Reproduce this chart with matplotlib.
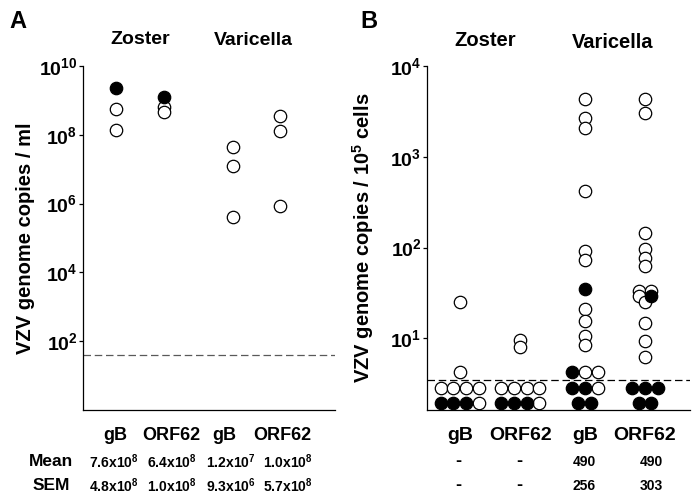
import matplotlib
matplotlib.use('Agg')
import matplotlib.pyplot as plt
from matplotlib.ticker import FixedLocator, FixedFormatter, NullLocator

# Fonts: Helvetica-like bold everywhere
plt.rcParams['font.family'] = ['Liberation Sans', 'DejaVu Sans']
plt.rcParams['font.weight'] = 'bold'
plt.rcParams['axes.labelweight'] = 'bold'
plt.rcParams['mathtext.fontset'] = 'custom'
plt.rcParams['mathtext.rm'] = 'Liberation Sans:bold'
plt.rcParams['mathtext.bf'] = 'Liberation Sans:bold'
plt.rcParams['mathtext.it'] = 'Liberation Sans:bold'

# ---- Data, panel A (copies / ml) ----
categories = ['gB', 'ORF62', 'gB', 'ORF62']
groups = ['Zoster', 'Varicella']
a_open = [[5.6e8, 1.4e8], [6.4e8, 4.6e8], [4.4e7, 1.2e7, 4.0e5], [3.5e8, 1.3e8, 8.5e5]]
a_filled = [[2.3e9], [1.23e9], [], []]
a_cutoff = 40
a_mean = [r'7.6x10$^{8}$', r'6.4x10$^{8}$', r'1.2x10$^{7}$', r'1.0x10$^{8}$']
a_sem = [r'4.8x10$^{8}$', r'1.0x10$^{8}$', r'9.3x10$^{6}$', r'5.7x10$^{8}$']

# ---- Data, panel B (copies / 10^5 cells) ----
b_values = [
    [25, 4.2, 2.8, 2.8, 2.8, 2.8, 1.93, 1.93, 1.93, 1.93],
    [9.5, 8.0, 2.8, 2.8, 2.8, 2.8, 1.93, 1.93, 1.93, 1.93],
    [4300, 2650, 2050, 415, 91, 72, 35, 21, 15.4, 10.5, 8.4, 4.2, 4.2, 4.2,
     2.8, 2.8, 2.8, 1.93, 1.93],
    [4300, 3050, 146, 96, 76, 63, 33.6, 33.6, 29, 29, 25, 14.6, 9.3, 6.2,
     2.8, 2.8, 2.8, 1.93, 1.93],
]
b_filled = [
    [0, 0, 0, 0, 0, 0, 1, 1, 1, 0],
    [0, 0, 0, 0, 0, 0, 1, 1, 1, 0],
    [0, 0, 0, 0, 0, 0, 1, 0, 0, 0, 0, 1, 0, 0, 1, 1, 0, 1, 1],
    [0, 0, 0, 0, 0, 0, 0, 0, 0, 1, 0, 0, 0, 0, 1, 1, 1, 1, 1],
]
b_cutoff = 3.45
b_mean = ['-', '-', '490', '490']
b_sem = ['-', '-', '256', '303']

W, H = 699, 501
fig = plt.figure(figsize=(W / 100, H / 100), dpi=100)


def fx(x):
    return x / W


def fy(y):
    return 1 - y / H


def style_axis(ax):
    for s in ['top', 'right']:
        ax.spines[s].set_visible(False)
    for s in ['left', 'bottom']:
        ax.spines[s].set_linewidth(0.9)
    ax.tick_params(axis='y', direction='out', length=3, width=0.9, pad=1, labelsize=14)
    ax.tick_params(axis='x', length=0, pad=12)
    ax.yaxis.set_minor_locator(NullLocator())


MS = 80   # marker area
LW = 0.9

# ---------------- Panel A ----------------
axA = fig.add_axes([fx(83), fy(410), fx(335 - 83), (410 - 66) / H])
a_pos = [1.3, 3.2, 5.95, 7.8]
a_label_pos = [1.27, 3.5, 5.6, 7.9]
for i in range(4):
    axA.scatter([a_pos[i]] * len(a_open[i]), a_open[i], s=MS, facecolor='white',
                edgecolor='black', linewidth=LW, zorder=3)
    axA.scatter([a_pos[i]] * len(a_filled[i]), a_filled[i], s=MS, facecolor='black',
                edgecolor='black', linewidth=LW, zorder=4)
axA.axhline(a_cutoff, color='0.35', linestyle=(0, (6, 3)), linewidth=0.9)
axA.set_yscale('log')
axA.set_ylim(1, 1e10)
axA.set_xlim(0, 10)
style_axis(axA)
axA.yaxis.set_major_locator(FixedLocator([1e2, 1e4, 1e6, 1e8, 1e10]))
axA.yaxis.set_major_formatter(FixedFormatter([r'$10^{2}$', r'$10^{4}$', r'$10^{6}$',
                                              r'$10^{8}$', r'$10^{10}$']))
axA.set_xticks(a_label_pos)
axA.set_xticklabels(categories, fontsize=13)
axA.set_ylabel('VZV genome copies / ml', fontsize=14.5, labelpad=3)

fig.text(fx(18), fy(22), 'A', fontsize=17, ha='center', va='center')
fig.text(fx(140), fy(40), groups[0], fontsize=14, ha='center', va='center')
fig.text(fx(253), fy(41), groups[1], fontsize=14, ha='center', va='center')

fig.text(fx(51), fy(462), 'Mean', fontsize=12.5, ha='center', va='center')
fig.text(fx(51), fy(486), 'SEM', fontsize=12.5, ha='center', va='center')
a_tab_x = [114, 172, 231, 288]
for i in range(4):
    fig.text(fx(a_tab_x[i]), fy(462), a_mean[i], fontsize=10, ha='center', va='center')
    fig.text(fx(a_tab_x[i]), fy(486), a_sem[i], fontsize=10, ha='center', va='center')

# ---------------- Panel B ----------------
axB = fig.add_axes([fx(427), fy(410), fx(690 - 427), (410 - 66) / H])
b_pos = [1.25, 3.54, 6.0, 8.29]
step = 12.8 * 10 / (690 - 427)   # circle spacing in data units
for i in range(4):
    vals = b_values[i]
    flags = b_filled[i]
    # spread points with equal value side by side
    groups_idx = {}
    for j, v in enumerate(vals):
        groups_idx.setdefault(v, []).append(j)
    for v, idx in groups_idx.items():
        n = len(idx)
        for k, j in enumerate(idx):
            x = b_pos[i] + (k - (n - 1) / 2) * step
            fc = 'black' if flags[j] else 'white'
            axB.scatter([x], [v], s=MS, facecolor=fc, edgecolor='black',
                        linewidth=LW, zorder=3 + j * 0.01 + flags[j])
axB.axhline(b_cutoff, color='black', linestyle=(0, (6, 3)), linewidth=0.9)
axB.set_yscale('log')
axB.set_ylim(10 ** 0.21, 1e4)
axB.set_xlim(0, 10)
style_axis(axB)
axB.yaxis.set_major_locator(FixedLocator([1e1, 1e2, 1e3, 1e4]))
axB.yaxis.set_major_formatter(FixedFormatter([r'$10^{1}$', r'$10^{2}$', r'$10^{3}$',
                                              r'$10^{4}$']))
axB.set_xticks(b_pos)
axB.set_xticklabels(categories, fontsize=14)
axB.set_ylabel(r'VZV genome copies / 10$^{5}$ cells', fontsize=14.5, labelpad=10)

fig.text(fx(369), fy(22), 'B', fontsize=17, ha='center', va='center')
fig.text(fx(485), fy(40), groups[0], fontsize=14.5, ha='center', va='center')
fig.text(fx(613), fy(42), groups[1], fontsize=14.5, ha='center', va='center')

b_tab_x = [458, 519, 584, 651]
for i in range(4):
    fig.text(fx(b_tab_x[i]), fy(462), b_mean[i], fontsize=10 if b_mean[i] != '-' else 13,
             ha='center', va='center')
    fig.text(fx(b_tab_x[i]), fy(486), b_sem[i], fontsize=10 if b_sem[i] != '-' else 13,
             ha='center', va='center')

fig.savefig('out.png', dpi=100)
